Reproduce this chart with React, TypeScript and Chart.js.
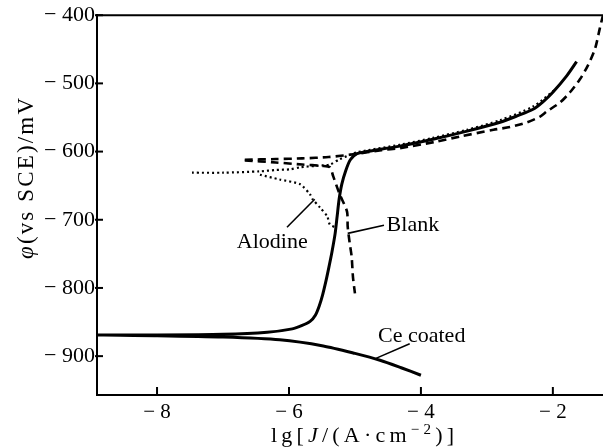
import React, { useEffect, useRef } from "react";
import { Chart, registerables } from "chart.js";

Chart.register(...registerables);

// ---- axis ranges & ticks ----
const X_MIN = -8.91;
const X_MAX = -1.24;
const Y_MIN = -957;
const Y_MAX = -400;
const X_TICKS = [-8, -6, -4, -2];
const Y_TICKS = [-400, -500, -600, -700, -800, -900];

// ---- Ce coated (solid): cathodic branch right->left, then anodic branch left->right ----
const ceX = [-4.0, -4.3, -4.62, -5.0, -5.48, -6.14, -7.0, -8.0, -8.91, -8.0, -7.0, -6.33, -5.95, -5.8, -5.68, -5.6, -5.54, -5.49, -5.44, -5.4, -5.35, -5.3, -5.27, -5.24, -5.2, -5.14, -5.07, -4.97, -4.82, -4.32, -3.82, -3.3, -2.8, -2.55, -2.3, -2.15, -2.0, -1.79, -1.64];
const ceY = [-928, -917, -906, -896, -885, -876, -872, -870, -869, -869, -868, -865, -860, -855, -849, -840, -826, -810, -790, -772, -748, -720, -695, -670, -648, -628, -612, -603, -600, -592, -582, -570, -557, -548, -538, -527, -513, -489, -468];

// ---- Blank (dashed) ----
const blankAnoX = [-6.67, -6.2, -5.8, -5.4, -5.03, -4.6, -4.32, -3.8, -3.41, -2.9, -2.65, -2.39, -2.2, -2.09, -1.89, -1.74, -1.59, -1.47, -1.36, -1.29, -1.24];
const blankAnoY = [-612, -611, -610, -608, -604, -598, -595, -586, -578, -568, -564, -557, -549, -541, -528, -513, -494, -474, -449, -420, -400];
const blankCatX = [-6.67, -6.2, -5.8, -5.5, -5.38, -5.33, -5.23, -5.12, -5.11, -5.08, -5.05, -5.03, -5.0];
const blankCatY = [-613, -616, -619, -621, -623, -636, -663, -688, -710, -734, -754, -784, -808];

// ---- Alodine (dotted) ----
const aloAnoX = [-7.47, -7.0, -6.44, -6.2, -5.98, -5.83, -5.6, -5.38, -5.23, -5.05, -4.97, -4.32, -3.82, -3.3, -2.8, -2.3, -1.95];
const aloAnoY = [-631, -631, -629, -627, -626, -623, -621, -619, -611, -604, -601, -590, -580, -568, -554, -534, -508];
const aloCatX = [-6.44, -6.14, -5.83, -5.68, -5.64, -5.53, -5.42, -5.38, -5.3];
const aloCatY = [-634, -641, -648, -663, -670, -682, -695, -707, -711];

// ---- curve labels and their leader lines (data units) ----
const NOTE_TEXT = ["Alodine", "Blank", "Ce coated"];
const NOTE_X = [-6.79, -4.52, -4.65];
const NOTE_Y = [-742, -717, -879];
const LEADER_X1 = [-6.03, -5.11, -4.7];
const LEADER_Y1 = [-711, -720, -904];
const LEADER_X2 = [-5.61, -4.56, -4.17];
const LEADER_Y2 = [-670, -708, -882];

const SERIF = "'Liberation Serif', 'Times New Roman', serif";

const toPts = (xs: number[], ys: number[]) => xs.map((x, i) => ({ x, y: ys[i] }));
const tickLabel = (v: number) => (v < 0 ? "\u2212 " + Math.abs(v) : String(v));

type Seg = { t: string; italic?: boolean; sup?: boolean };

function drawFitted(ctx: CanvasRenderingContext2D, segs: Seg[], x0: number, width: number, baseY: number, size: number) {
  const chars: Seg[] = [];
  segs.forEach((s) => {
    for (const ch of s.t) chars.push({ t: ch, italic: s.italic, sup: s.sup });
  });
  const fontFor = (c: Seg) => `${c.italic ? "italic " : ""}${c.sup ? Math.round(size * 0.68) : size}px ${SERIF}`;
  const widths = chars.map((c) => {
    ctx.font = fontFor(c);
    return ctx.measureText(c.t).width;
  });
  const total = widths.reduce((a, b) => a + b, 0);
  const gap = (width - total) / (chars.length - 1);
  let x = x0;
  chars.forEach((c, i) => {
    ctx.font = fontFor(c);
    ctx.fillText(c.t, x, baseY - (c.sup ? size * 0.36 : 0));
    x += widths[i] + gap;
  });
}

const decorPlugin = {
  id: "decor",
  afterDraw(chart: any) {
    const { ctx, chartArea: a, scales } = chart;
    const xs = scales.x;
    const ys = scales.y;
    ctx.save();
    ctx.strokeStyle = "#000";
    ctx.fillStyle = "#000";
    ctx.lineWidth = 2;
    ctx.beginPath();
    ctx.moveTo(a.left - 1, a.top);
    ctx.lineTo(a.right, a.top);
    ctx.stroke();
    Y_TICKS.forEach((v) => {
      const p = ys.getPixelForValue(v);
      ctx.beginPath();
      ctx.moveTo(a.left - 2, p);
      ctx.lineTo(a.left + 6, p);
      ctx.stroke();
    });
    X_TICKS.forEach((v) => {
      const p = xs.getPixelForValue(v);
      ctx.beginPath();
      ctx.moveTo(p, a.bottom);
      ctx.lineTo(p, a.bottom - 8);
      ctx.stroke();
    });
    ctx.lineWidth = 1.6;
    LEADER_X1.forEach((_, i) => {
      ctx.beginPath();
      ctx.moveTo(xs.getPixelForValue(LEADER_X1[i]), ys.getPixelForValue(LEADER_Y1[i]));
      ctx.lineTo(xs.getPixelForValue(LEADER_X2[i]), ys.getPixelForValue(LEADER_Y2[i]));
      ctx.stroke();
    });
    ctx.textAlign = "left";
    ctx.textBaseline = "alphabetic";
    ctx.font = `22px ${SERIF}`;
    NOTE_TEXT.forEach((t, i) => {
      ctx.fillText(t, xs.getPixelForValue(NOTE_X[i]), ys.getPixelForValue(NOTE_Y[i]));
    });
    // x-axis title
    drawFitted(
      ctx,
      [{ t: "lg[" }, { t: "J", italic: true }, { t: "/(A\u00b7cm" }, { t: "\u22122", sup: true }, { t: ")]" }],
      271,
      183,
      442,
      22
    );
    // y-axis title (rotated)
    ctx.translate(33, 259);
    ctx.rotate(-Math.PI / 2);
    drawFitted(ctx, [{ t: "\u03c6", italic: true }, { t: "(vs SCE)/mV" }], 0, 161, 0, 23);
    ctx.restore();
  },
};

export default function App() {
  const ref = useRef<HTMLCanvasElement | null>(null);
  useEffect(() => {
    if (!ref.current) return;
    const base = { pointRadius: 0, borderColor: "#000", fill: false, tension: 0.25 };
    const chart = new Chart(ref.current, {
      type: "line",
      data: {
        datasets: [
          { ...base, label: "Ce coated", data: toPts(ceX, ceY), borderWidth: 3 },
          { ...base, label: "Blank", data: toPts(blankAnoX, blankAnoY), borderWidth: 2.6, borderDash: [8, 5] },
          { ...base, label: "Blank cathodic", data: toPts(blankCatX, blankCatY), borderWidth: 2.6, borderDash: [8, 5] },
          { ...base, label: "Alodine", data: toPts(aloAnoX, aloAnoY), borderWidth: 2.2, borderDash: [2, 3] },
          { ...base, label: "Alodine cathodic", data: toPts(aloCatX, aloCatY), borderWidth: 2.2, borderDash: [2, 3] },
        ],
      },
      options: {
        responsive: false,
        animation: false,
        layout: { padding: { top: 15, right: 0, bottom: 0, left: 0 } },
        plugins: { legend: { display: false }, tooltip: { enabled: false } },
        scales: {
          x: {
            type: "linear",
            min: X_MIN,
            max: X_MAX,
            grid: { display: false, drawTicks: false },
            border: { display: true, color: "#000", width: 2 },
            ticks: {
              stepSize: 2,
              includeBounds: false,
              autoSkip: false,
              maxRotation: 0,
              padding: 5,
              color: "#000",
              font: { family: SERIF, size: 21 },
              callback: (v: any) => tickLabel(Number(v)),
            },
            afterFit: (s: any) => {
              s.height = 53;
            },
          },
          y: {
            type: "linear",
            min: Y_MIN,
            max: Y_MAX,
            grid: { display: false, drawTicks: false },
            border: { display: true, color: "#000", width: 2 },
            ticks: {
              stepSize: 100,
              includeBounds: false,
              autoSkip: false,
              padding: 2,
              color: "#000",
              font: { family: SERIF, size: 22 },
              callback: (v: any) => tickLabel(Number(v)),
            },
            afterFit: (s: any) => {
              s.width = 97;
            },
          },
        },
      },
      plugins: [decorPlugin],
    } as any);
    return () => chart.destroy();
  }, []);
  return (
    <div style={{ position: "absolute", left: 0, top: 0, width: 603, height: 448, background: "#fff" }}>
      <canvas ref={ref} width={603} height={448} style={{ width: 603, height: 448, display: "block" }} />
    </div>
  );
}
